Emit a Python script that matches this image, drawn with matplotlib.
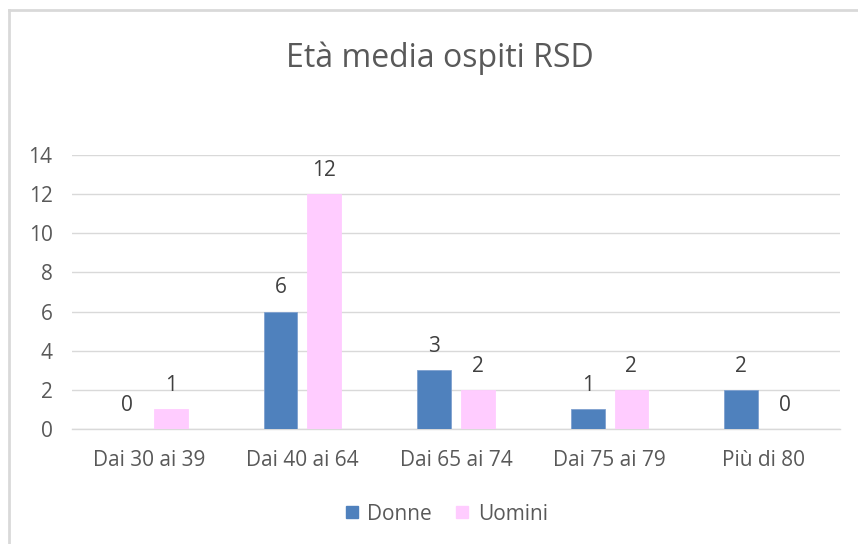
import matplotlib
matplotlib.use("Agg")
import matplotlib.pyplot as plt
import numpy as np
from matplotlib.lines import Line2D

categories = ["Dai 30 ai 39", "Dai 40 ai 64", "Dai 65 ai 74", "Dai 75 ai 79", "Più di 80"]
donne = [0, 6, 3, 1, 2]
uomini = [1, 12, 2, 2, 0]
series_names = ["Donne", "Uomini"]
yticks = [0, 2, 4, 6, 8, 10, 12, 14]
title = "Età media ospiti RSD"

plt.rcParams['font.family'] = ['Open Sans', 'DejaVu Sans']

fig = plt.figure(figsize=(8.58, 5.44), dpi=100)
ax = fig.add_axes([72/858, 115/544, 768/858, 274/544])

x = np.arange(len(categories))
w = 0.22
off = 0.142
c_d = "#4F81BD"
c_u = "#FFCCFF"
b1 = ax.bar(x - off, donne, w, color=c_d, edgecolor="#7FA1CF", linewidth=0.6, zorder=3)
b2 = ax.bar(x + off, uomini, w, color=c_u, edgecolor="#FFCCFF", linewidth=0.6, zorder=3)

for bars, vals in ((b1, donne), (b2, uomini)):
    for rect, v in zip(bars, vals):
        ax.annotate(str(v), (rect.get_x() + rect.get_width()/2, v),
                    xytext=(0, 17), textcoords="offset points",
                    ha="center", va="center", fontsize=15, color="#404040")

ax.set_xlim(-0.5, len(categories) - 0.5)
ax.set_ylim(0, 14)
ax.set_yticks(yticks)
ax.set_xticks(x)
ax.set_xticklabels(categories)
ax.tick_params(axis="both", length=0, labelsize=15, labelcolor="#595959")
ax.tick_params(axis="y", pad=14)
ax.tick_params(axis="x", pad=15)
ax.yaxis.grid(True, color="#D9D9D9", linewidth=1, zorder=0)
for s in ["top", "right", "left"]:
    ax.spines[s].set_visible(False)
ax.spines["bottom"].set_color("#D9D9D9")
ax.spines["bottom"].set_linewidth(1)

fig.text(440/858, 1 - 58/544, title, ha="center", va="center", fontsize=23, color="#595959")

handles = [Line2D([], [], marker="s", linestyle="none", markersize=9, markerfacecolor=c_d, markeredgecolor=c_d),
           Line2D([], [], marker="s", linestyle="none", markersize=9, markerfacecolor=c_u, markeredgecolor=c_u)]
fig.legend(handles, series_names, loc="center", bbox_to_anchor=(445/858, 1 - 514/544), ncol=2,
           frameon=False, fontsize=15, labelcolor="#595959", handlelength=0.9, handletextpad=0.3,
           columnspacing=1.0)

# chart border (top and left visible)
fig.add_artist(Line2D([9/858, 1], [1 - 10/544, 1 - 10/544], transform=fig.transFigure, color="#D9D9D9", linewidth=2))
fig.add_artist(Line2D([9/858, 9/858], [0, 1 - 10/544], transform=fig.transFigure, color="#D9D9D9", linewidth=2))

fig.savefig("out.png", dpi=100, facecolor="white")
